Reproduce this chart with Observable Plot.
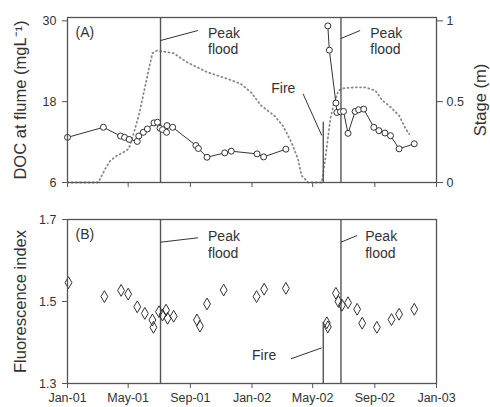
<!DOCTYPE html>
<html><head><meta charset="utf-8">
<script src="https://cdn.jsdelivr.net/npm/d3@7"></script>
<script src="https://cdn.jsdelivr.net/npm/@observablehq/plot@0.6"></script>
<style>body{margin:0;background:#fff;} #chart svg{display:block;}</style>
</head><body><div id="chart"></div>
<script>
// ---- Data ----
const docDates = ["2001-01-01","2001-03-13","2001-04-16","2001-04-24","2001-05-03","2001-05-19","2001-05-22","2001-05-31","2001-06-08","2001-06-21","2001-06-28","2001-07-03","2001-07-08","2001-07-16","2001-07-17","2001-07-28","2001-09-12","2001-09-17","2001-10-04","2001-11-08","2001-11-21","2002-01-11","2002-01-24","2002-03-09",
  "2002-05-31","2002-06-03","2002-06-16","2002-06-18","2002-06-25","2002-07-01","2002-07-10","2002-07-24","2002-07-31","2002-08-10","2002-08-30","2002-09-09","2002-09-21","2002-10-02","2002-10-19","2002-11-18"];
const docValues = [12.7,14.2,12.9,12.7,12.4,12.1,12.9,13.45,13.95,14.85,14.95,14.05,13.85,13.45,14.45,14.2,11.5,11.05,9.75,10.4,10.65,10.25,9.8,10.95,
  29.25,25.65,17.8,16.4,16.5,16.55,13.3,16.55,16.8,16.9,14.2,13.7,13.35,12.95,11.0,11.75];

const stageDates = ["2001-01-01","2001-03-03","2001-03-07","2001-03-17","2001-03-27","2001-04-09","2001-04-22","2001-05-02","2001-05-09","2001-05-22","2001-06-01","2001-06-11","2001-06-18","2001-06-27","2001-07-30","2001-08-26","2001-10-05","2001-11-14","2001-12-10","2001-12-30","2002-01-19","2002-02-14","2002-03-03","2002-03-20","2002-04-02","2002-04-09","2002-04-22","2002-05-19","2002-05-26","2002-05-31","2002-06-05","2002-06-11","2002-06-21","2002-07-01","2002-07-24","2002-08-13","2002-09-02","2002-09-16","2002-09-29","2002-10-19","2002-11-01","2002-11-08"];
const stageValues = [0,0,0.025,0.087,0.136,0.167,0.187,0.208,0.272,0.414,0.558,0.703,0.80,0.816,0.80,0.743,0.682,0.641,0.61,0.558,0.476,0.414,0.352,0.249,0.146,0.043,0,0,0.146,0.27,0.394,0.476,0.569,0.583,0.589,0.589,0.569,0.507,0.476,0.414,0.332,0.30];

const fiDates = ["2001-01-03","2001-03-15","2001-04-17","2001-05-01","2001-05-19","2001-06-03","2001-06-18","2001-06-20","2001-07-01","2001-07-08","2001-07-15","2001-07-18","2001-07-30","2001-09-14","2001-09-20","2001-10-04","2001-11-06","2002-01-10","2002-01-25","2002-03-09","2002-05-29","2002-05-31","2002-06-16","2002-06-21","2002-06-28","2002-07-10","2002-07-28","2002-08-07","2002-09-05","2002-10-04","2002-10-19","2002-11-18"];
const fiValues = [1.546,1.512,1.527,1.518,1.487,1.471,1.455,1.437,1.475,1.467,1.479,1.459,1.464,1.455,1.44,1.494,1.528,1.512,1.53,1.532,1.448,1.438,1.52,1.5,1.491,1.497,1.481,1.447,1.437,1.456,1.469,1.481];

const peakFloodDates = ["2001-07-04","2002-06-26"];
const fireDate = "2002-05-22";
const xTickDates = ["2001-01-01","2001-05-01","2001-09-01","2002-01-01","2002-05-01","2002-09-01","2003-01-01"];
const docTicks = [6,18,30];
const stageTicks = [0,0.5,1];
const fiTicks = [1.3,1.5,1.7];

// ---- helpers ----
const D = s => new Date(s);
const xDomain = [D("2001-01-01"), D("2003-01-01")];
const fmtX = d3.utcFormat("%b-%y");
const toDoc = s => 6 + s * 24;      // stage (0..1) onto DOC axis (6..30)
const fromDoc = v => (v - 6) / 24;
const ink = "#333";
const lineGray = "#555";

const doc = docDates.map((d, i) => ({date: D(d), v: docValues[i], seg: D(d) < D(fireDate) ? 0 : 1}));
const stage = stageDates.map((d, i) => ({date: D(d), v: toDoc(stageValues[i])}));
const fi = fiDates.map((d, i) => ({date: D(d), v: fiValues[i]}));
const xTicks = xTickDates.map(D);
const peaks = peakFloodDates.map(D);

const common = {
  width: 490, marginLeft: 67, marginRight: 54,
  style: {fontFamily: "'Liberation Sans', Arial, sans-serif", fontSize: "12px", color: ink, background: "#fff"}
};

// ---- Panel A ----
const plotA = Plot.plot({
  ...common,
  height: 200, marginTop: 17, marginBottom: 18,
  x: {type: "utc", domain: xDomain, axis: null},
  y: {domain: [6, 30.5], axis: null},
  marks: [
    Plot.axisX(xTicks, {tickSize: 5, tickFormat: () => "", stroke: lineGray}),
    Plot.axisY(docTicks, {anchor: "left", tickSize: 5, tickPadding: 6, label: null, stroke: lineGray, fill: ink, fontSize: 12.5}),
    Plot.axisY(stageTicks.map(toDoc), {anchor: "right", tickSize: 6, tickPadding: 4, label: null, stroke: lineGray, fill: ink, fontSize: 12.5,
      tickFormat: d => String(+fromDoc(d).toFixed(2))}),
    Plot.text(["DOC at flume (mgL\u207B\u00B9)"], {frameAnchor: "left", dx: -47, rotate: -90, textAnchor: "middle", lineAnchor: "middle", fontSize: 16.5, fill: ink}),
    Plot.text(["Stage (m)"], {frameAnchor: "right", dx: 44, rotate: -90, textAnchor: "middle", lineAnchor: "middle", fontSize: 16.5, fill: ink}),
    Plot.line(stage, {x: "date", y: "v", stroke: "#888", strokeWidth: 1.8, strokeDasharray: "1,3.2"}),
    Plot.ruleX(peaks, {stroke: lineGray, strokeWidth: 1.4}),
    Plot.ruleX([D(fireDate)], {y1: 6, y2: 14.95, stroke: lineGray, strokeWidth: 1.4}),
    Plot.line(doc, {x: "date", y: "v", z: "seg", stroke: ink, strokeWidth: 1}),
    Plot.dot(doc, {x: "date", y: "v", r: 3, fill: "#fff", stroke: ink, strokeWidth: 1}),
    // annotations
    Plot.link([{x1: D("2001-07-04"), y1: 27.08, x2: D("2001-09-16"), y2: 28.57},
               {x1: D("2002-06-26"), y1: 27.38, x2: D("2002-08-03"), y2: 28.57},
               {x1: D("2002-04-12"), y1: 19.17, x2: D("2002-05-19"), y2: 12.98}],
      {x1: "x1", y1: "y1", x2: "x2", y2: "y2", stroke: ink, strokeWidth: 1}),
    Plot.text([{x: D("2001-10-06"), y: 27.08}, {x: D("2002-08-23"), y: 27.08}],
      {x: "x", y: "y", text: () => "Peak\nflood", textAnchor: "start", lineAnchor: "middle", lineHeight: 1.17, fontSize: 14, fill: ink}),
    Plot.text([{x: D("2002-03-04"), y: 19.9}], {x: "x", y: "y", text: () => "Fire", fontSize: 14, fill: ink}),
    Plot.text(["(A)"], {frameAnchor: "top-left", dx: 8, dy: 15, lineAnchor: "middle", fontSize: 14, fill: ink}),
    Plot.frame({stroke: lineGray, strokeWidth: 1.3})
  ]
});

// ---- Panel B ----
const plotB = Plot.plot({
  ...common,
  height: 207, marginTop: 19, marginBottom: 24,
  x: {type: "utc", domain: xDomain, axis: null},
  y: {domain: [1.3, 1.7], axis: null},
  marks: [
    Plot.axisX(xTicks, {tickSize: 5, tickPadding: 5, tickFormat: fmtX, stroke: lineGray, fill: ink, label: null, fontSize: 12.5}),
    Plot.axisY(fiTicks, {anchor: "left", tickSize: 5, tickPadding: 6, label: null, stroke: lineGray, fill: ink, fontSize: 12.5, tickFormat: d3.format(".1f")}),
    Plot.text(["Fluorescence index"], {frameAnchor: "left", dx: -47, rotate: -90, textAnchor: "middle", lineAnchor: "middle", fontSize: 16.5, fill: ink}),
    Plot.ruleX(peaks, {stroke: lineGray, strokeWidth: 1.4}),
    Plot.ruleX([D(fireDate)], {y1: 1.3, y2: 1.4495, stroke: lineGray, strokeWidth: 1.4}),
    Plot.dot(fi, {x: "date", y: "v", symbol: "diamond", r: 3.6, fill: "none", stroke: ink, strokeWidth: 1}),
    Plot.link([{x1: D("2001-07-04"), y1: 1.6446, x2: D("2001-09-16"), y2: 1.6554},
               {x1: D("2002-06-26"), y1: 1.6446, x2: D("2002-07-28"), y2: 1.661},
               {x1: D("2002-03-19"), y1: 1.3602, x2: D("2002-05-19"), y2: 1.387}],
      {x1: "x1", y1: "y1", x2: "x2", y2: "y2", stroke: ink, strokeWidth: 1}),
    Plot.text([{x: D("2001-10-06"), y: 1.64}, {x: D("2002-08-13"), y: 1.64}],
      {x: "x", y: "y", text: () => "Peak\nflood", textAnchor: "start", lineAnchor: "middle", lineHeight: 1.17, fontSize: 14, fill: ink}),
    Plot.text([{x: D("2002-01-25"), y: 1.368}], {x: "x", y: "y", text: () => "Fire", fontSize: 14, fill: ink}),
    Plot.text(["(B)"], {frameAnchor: "top-left", dx: 8, dy: 15, lineAnchor: "middle", fontSize: 14, fill: ink}),
    Plot.frame({stroke: lineGray, strokeWidth: 1.3})
  ]
});

const el = document.getElementById("chart");
el.append(plotA, plotB);
</script>
</body></html>
